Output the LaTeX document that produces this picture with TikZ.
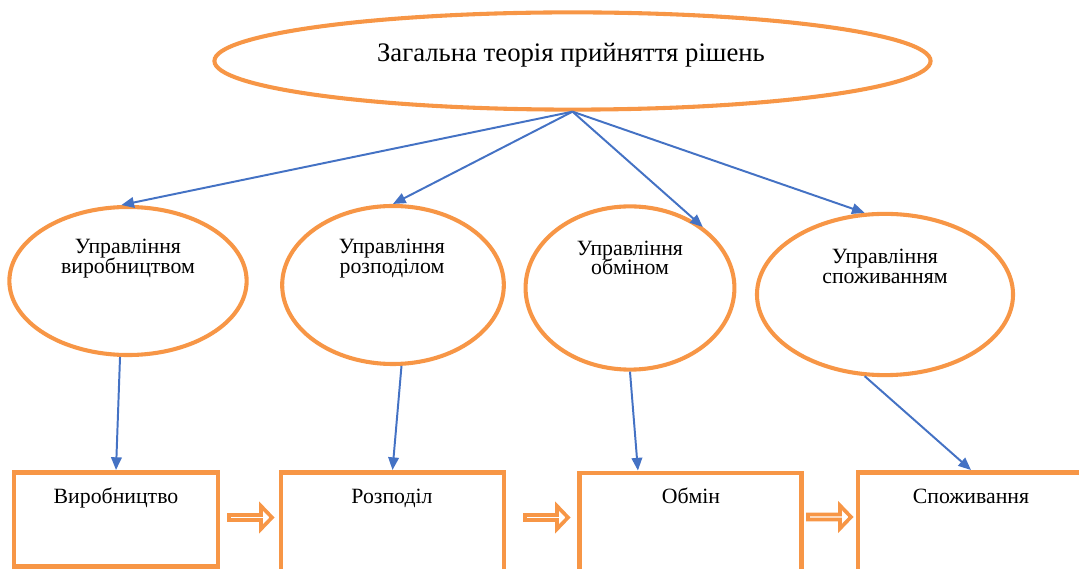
\documentclass[tikz,border=0pt]{standalone}
\usepackage{fontspec}
\setmainfont{Liberation Serif}
\usetikzlibrary{arrows.meta,shapes.geometric}
\definecolor{orng}{RGB}{247,150,70}
\definecolor{blu}{RGB}{68,114,196}
\lineskiplimit=-20pt

\begin{document}
\begin{tikzpicture}[x=0.025cm,y=-0.025cm,
    oval/.style={draw=orng,line width=2.9pt,ellipse,inner sep=0pt},
    stage/.style={draw=orng,line width=3.5pt,rectangle,inner sep=0pt,minimum height=2.85cm},
    txt/.style={inner sep=0pt,align=center,font=\fontsize{15.5pt}{14pt}\selectfont},
    link/.style={draw=blu,line width=1.4pt,-{Triangle[length=9pt,width=7.5pt]}},
    blockarrow/.style={draw=orng,line width=2.6pt,fill=white,line join=miter}]
  \useasboundingbox (0,0) rectangle (1079,569);
  \clip (0,0) rectangle (1079,569);

  \node [oval,minimum width=17.9cm,minimum height=2.43cm] (top) at (572.5,61) {};
  \node [anchor=base,inner sep=0pt,font=\fontsize{19pt}{22pt}\selectfont] (title) at (571,62) {Загальна теорія прийняття рішень};

  \node [oval,minimum width=5.93cm,minimum height=3.7cm] (e1) at (128,281) {};
  \node [oval,minimum width=5.54cm,minimum height=3.95cm] (e2) at (393,285) {};
  \node [oval,minimum width=5.22cm,minimum height=4.08cm] (e3) at (630,288) {};
  \node [oval,minimum width=6.4cm,minimum height=4.03cm] (e4) at (885,294.5) {};

  \node [txt] (t1) at (128,258.4) {Управління\\виробництвом};
  \node [txt] (t2) at (392,258.7) {Управління\\розподілом};
  \node [txt] (t3) at (630,258) {Управління\\обміном};
  \node [txt] (t4) at (885,266.7) {Управління\\споживанням};

  \node [stage,minimum width=5.1cm,minimum height=2.34cm] (b1) at (116,519.25) {};
  \node [stage,minimum width=5.575cm] (b2) at (392.5,529.5) {};
  \node [stage,minimum width=5.54cm] (b3) at (690.75,530) {};
  \node [stage,minimum width=5.65cm] (b4) at (971,529.5) {};

  \node [txt,anchor=base] (s1) at (116,504) {Виробництво};
  \node [txt,anchor=base] (s2) at (392,504) {Розподіл};
  \node [txt,anchor=base] (s3) at (691,504) {Обмін};
  \node [txt,anchor=base] (s4) at (971,503.5) {Споживання};

  \foreach \e/\ang in {e1/95,e2/90,e3/40,e4/104}
    \draw [link] (top.south) -- (\e.\ang);

  \draw [link] (e1.-96) -- (b1.north);
  \draw [link] (e2.-84) -- (b2.north);
  \draw [link] (e3.south) -- ([xshift=-1.32cm]b3.north);
  \draw [link] (e4.-104) -- (b4.north);

  \coordinate (a1) at (227,517.5);
  \coordinate (a2) at (523,517.5);
  \coordinate (a3) at (806,517);
  \foreach \a in {a1,a2,a3}
    \draw [blockarrow] (\a) ++(2,-2.5) -- ++(32,0) -- ++(0,-9) -- ++(11,11.5) -- ++(-11,11.5) -- ++(0,-9) -- ++(-32,0) -- cycle;
\end{tikzpicture}
\end{document}
